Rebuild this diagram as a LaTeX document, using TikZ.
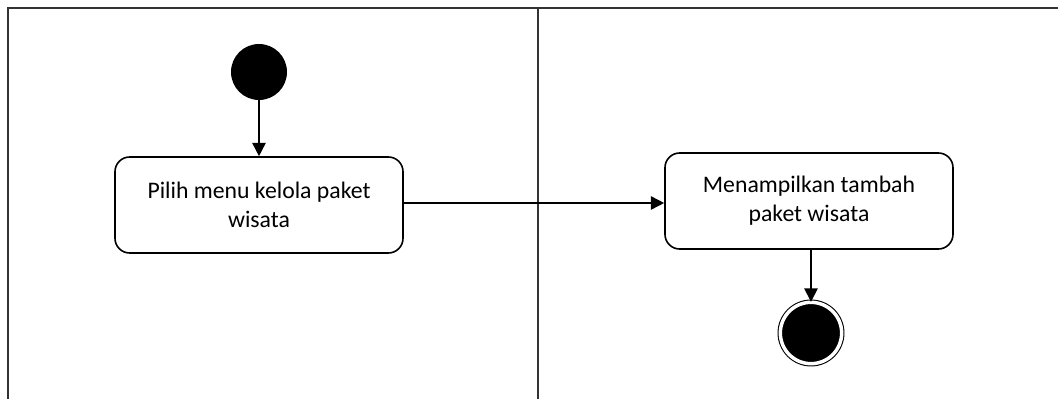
\documentclass[tikz,border=0pt]{standalone}
\usepackage{fontspec}
\setmainfont{Carlito}
\usetikzlibrary{arrows.meta}
\begin{document}
\begin{tikzpicture}[x=0.75pt, y=-0.75pt,
    action/.style={draw, line width=1.2pt, rounded corners=11pt, minimum width=216pt, minimum height=72pt, align=center, font=\fontsize{17.8}{22}\selectfont},
    startnode/.style={circle, fill=black, minimum size=42pt, inner sep=0pt},
    endnode/.style={circle, draw, line width=0.8pt, double=white, double distance=2.6pt, fill=black, minimum size=46pt, inner sep=0pt},
    flow/.style={line width=1.2pt, -{Triangle[length=10pt, width=10pt]}}]
    \useasboundingbox (0, 0) rectangle (1058, 399);

    % Draw lanes
    \draw[line width=1.2pt, black!80] (8, 399) -- (8, 8) -- (1058, 8);
    \draw[line width=1.2pt, black!80] (538, 8) -- (538, 399);

    % Draw nodes
    \node[startnode] (start) at (259, 72) {};
    \node[action] (pilih) at (259, 205) {Pilih menu kelola paket\\wisata};
    \node[action] (tampil) at (809, 201) {Menampilkan tambah\\paket wisata};
    \node[endnode] (end) at (811, 333) {};

    % Draw edges
    \draw[flow] (start) -- (pilih);
    \draw[flow] (pilih.east |- 0, 203) -- (tampil.west |- 0, 203);
    \draw[flow] (tampil.south -| end) -- (end);
\end{tikzpicture}
\end{document}
